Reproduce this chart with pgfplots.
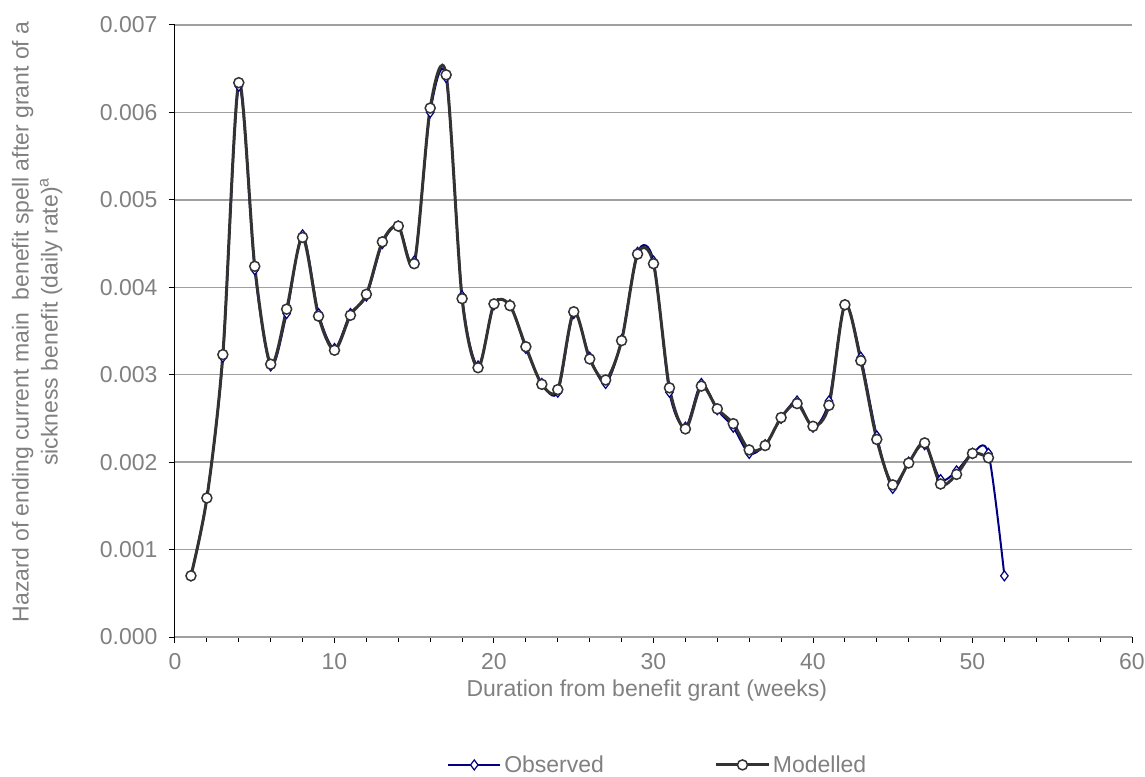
\documentclass[border=0pt]{standalone}
\usepackage{fontspec}
\setmainfont{Liberation Sans}
\usepackage{pgfplots}
\pgfplotsset{compat=1.18}
\usepackage{pgfplotstable}
\definecolor{obs}{RGB}{0,0,128}
\definecolor{mod}{RGB}{51,51,51}
\definecolor{txt}{RGB}{128,128,128}
\definecolor{grd}{RGB}{160,160,160}

\pgfplotstableread{
w obs
1 0.0007
2 0.0016
3 0.0032
4 0.0063
5 0.0042
6 0.0031
7 0.0037
8 0.0046
9 0.0037
10 0.0033
11 0.0037
12 0.0039
13 0.0045
14 0.0047
15 0.0043
16 0.0060
17 0.0064
18 0.0039
19 0.0031
20 0.0038
21 0.0038
22 0.0033
23 0.0029
24 0.0028
25 0.0037
26 0.0032
27 0.0029
28 0.0034
29 0.0044
30 0.0043
31 0.0028
32 0.0024
33 0.0029
34 0.0026
35 0.0024
36 0.0021
37 0.0022
38 0.0025
39 0.0027
40 0.0024
41 0.0027
42 0.0038
43 0.0032
44 0.0023
45 0.0017
46 0.0020
47 0.0022
48 0.0018
49 0.0019
50 0.0021
51 0.0021
52 0.0007
}\observed

\pgfplotstableread{
w mod
1 0.00070
2 0.00159
3 0.00323
4 0.00634
5 0.00424
6 0.00312
7 0.00375
8 0.00457
9 0.00367
10 0.00328
11 0.00368
12 0.00392
13 0.00452
14 0.00470
15 0.00427
16 0.00605
17 0.00643
18 0.00387
19 0.00308
20 0.00381
21 0.00379
22 0.00332
23 0.00289
24 0.00283
25 0.00372
26 0.00318
27 0.00294
28 0.00339
29 0.00438
30 0.00427
31 0.00285
32 0.00238
33 0.00287
34 0.00261
35 0.00244
36 0.00214
37 0.00219
38 0.00251
39 0.00267
40 0.00241
41 0.00265
42 0.00380
43 0.00316
44 0.00226
45 0.00174
46 0.00199
47 0.00222
48 0.00175
49 0.00186
50 0.00210
51 0.00205
}\modelled

\begin{document}
\begin{tikzpicture}[font=\fontsize{23bp}{29bp}\selectfont]
\path[use as bounding box] (-175bp,-140bp) rectangle (970bp,637bp);
\begin{axis}[
  at={(0,0)}, anchor=south west,
  scale only axis,
  width=957bp, height=612bp,
  xmin=0, xmax=60, ymin=0, ymax=0.007,
  xtick={0,10,20,30,40,50,60},
  minor x tick num=4,
  ytick={0,0.001,0.002,0.003,0.004,0.005,0.006,0.007},
  scaled y ticks=false,
  yticklabel style={xshift=-8bp, /pgf/number format/.cd, fixed, fixed zerofill, precision=3},
  xticklabel style={yshift=-7bp},
  /pgf/number format/assume math mode=true,
  ticklabel style={text=txt},
  axis x line*=bottom, axis y line*=left,
  x axis line style={grd, line width=1.5bp, -},
  y axis line style={black, line width=1bp, -},
  tick align=outside,
  major tick length=6bp, minor tick length=5bp,
  tick style={black, line width=1bp},
  ymajorgrids,
  major grid style={grd, line width=1.5bp},
  clip=false,
  xlabel={Duration from benefit grant (weeks)},
  xlabel style={at={(axis description cs:0.493,-0.087)}, anchor=center, text=txt},
  ylabel={Hazard of ending current main\ \ benefit spell after grant of a\\sickness benefit (daily rate)\textsuperscript{a}},
  ylabel style={at={(axis description cs:-0.144,0.515)}, anchor=center, align=center, text=txt},
  legend columns=2,
  legend style={at={(axis description cs:0.505,-0.209)}, anchor=center, draw=none, fill=none,
    text=txt, nodes={inner sep=3bp},
    /tikz/every even column/.append style={column sep=108bp}},
  legend image code/.code={\draw[mark repeat=2, mark phase=2] plot coordinates {(0bp,0bp) (26bp,0bp) (52bp,0bp)};},
]
\addplot[obs, line width=2bp, smooth, tension=0.5, mark=diamond*, mark size=5bp,
  mark options={fill=white, draw=obs, line width=1.2bp}] table[x=w, y=obs] {\observed};
\addlegendentry{Observed}
\addplot[mod, line width=3bp, smooth, tension=0.5, mark=*, mark size=5bp,
  mark options={fill=white, draw=mod, line width=1.5bp}] table[x=w, y=mod] {\modelled};
\addlegendentry{Modelled}
\end{axis}
\end{tikzpicture}
\end{document}
